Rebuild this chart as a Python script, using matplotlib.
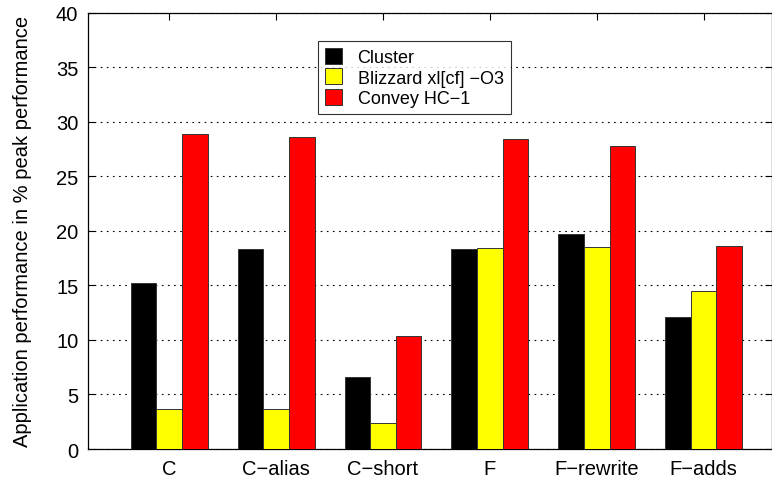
import numpy as np
import matplotlib.pyplot as plt

plt.rcParams['font.family'] = ['Liberation Sans', 'DejaVu Sans']

# Application performance per code variant, in % of peak
variants = ['C', 'C\u2212alias', 'C\u2212short', 'F', 'F\u2212rewrite', 'F\u2212adds']
cluster = [15.2, 18.35, 6.6, 18.35, 19.7, 12.1]
blizzard = [3.7, 3.65, 2.4, 18.4, 18.55, 14.5]
convey = [28.85, 28.65, 10.35, 28.4, 27.8, 18.6]

series = [
    ('Cluster', cluster, 'black'),
    ('Blizzard xl[cf] \u2212O3', blizzard, 'yellow'),
    ('Convey HC\u22121', convey, 'red'),
]

fig = plt.figure(figsize=(7.72, 4.81), dpi=100)
ax = fig.add_axes([0.114, 0.0644, 0.886, 0.907])

x = np.arange(1, len(variants) + 1)
width = 0.24
for i, (name, vals, color) in enumerate(series):
    ax.bar(x + (i - 1) * width, vals, width, color=color, edgecolor='#333333',
           linewidth=0.7, label=name, zorder=3)

ax.set_xlim(0.24, 6.64)
ax.set_ylim(0, 40)
ax.set_yticks(np.arange(0, 41, 5))
ax.set_xticks(x)
ax.set_xticklabels(variants)
ax.yaxis.grid(True, linestyle=(0, (1.5, 4)), color='black', linewidth=0.8)
ax.set_axisbelow(True)
ax.tick_params(direction='in', length=5, labelsize=14.5, top=True, right=True,
               pad=7)
for s in ax.spines.values():
    s.set_linewidth(0.9)

ax.set_ylabel('Application performance in % peak performance', fontsize=14.5,
              labelpad=17)

leg = ax.legend(loc='upper left', bbox_to_anchor=(0.336, 0.936), fontsize=13,
                frameon=True, fancybox=False, edgecolor='black',
                borderaxespad=0, handlelength=0.95, handleheight=1.0,
                handletextpad=0.85, labelspacing=0.12, borderpad=0.4)
leg.get_frame().set_linewidth(0.8)

fig.savefig('out.png', dpi=100)
